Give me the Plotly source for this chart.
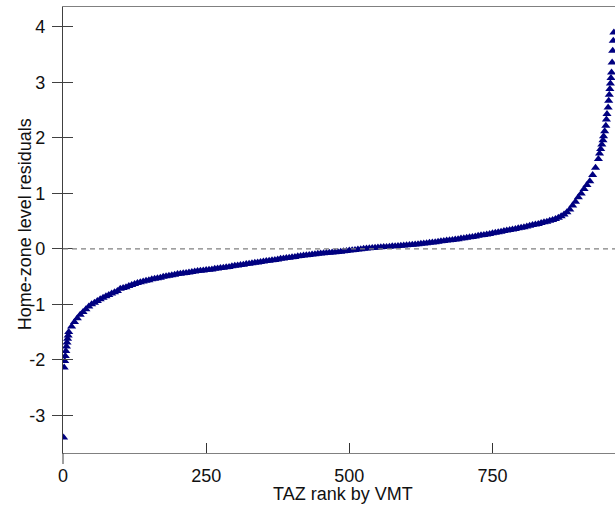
import plotly.graph_objects as go

# ---- data ----
head_rank = [1, 2, 3, 4, 5, 6, 7, 8, 9]
head_resid = [-3.40, -2.14, -2.02, -1.93, -1.84, -1.76, -1.69, -1.62, -1.56]

body_rank = list(range(10, 936, 5))
body_resid = [
    -1.50, -1.40, -1.32, -1.25, -1.19, -1.14, -1.09, -1.04, -1.00, -0.97,
    -0.94, -0.91, -0.88, -0.855, -0.83, -0.805, -0.78, -0.76, -0.72, -0.705,
    -0.69, -0.67, -0.65, -0.635, -0.615, -0.60, -0.59, -0.575, -0.565, -0.55,
    -0.54, -0.53, -0.52, -0.505, -0.495, -0.485, -0.475, -0.465, -0.455, -0.45,
    -0.44, -0.435, -0.425, -0.415, -0.41, -0.40, -0.395, -0.39, -0.38, -0.375,
    -0.37, -0.36, -0.355, -0.345, -0.34, -0.33, -0.325, -0.315, -0.305, -0.30,
    -0.29, -0.285, -0.275, -0.27, -0.26, -0.25, -0.245, -0.235, -0.23, -0.22,
    -0.215, -0.205, -0.20, -0.19, -0.18, -0.175, -0.165, -0.16, -0.15, -0.145,
    -0.135, -0.13, -0.12, -0.115, -0.11, -0.10, -0.095, -0.09, -0.085, -0.08,
    -0.075, -0.07, -0.065, -0.06, -0.055, -0.05, -0.045, -0.04, -0.03, -0.025,
    -0.02, -0.01, -0.005, 0.0, 0.005, 0.01, 0.015, 0.02, 0.025, 0.03,
    0.035, 0.035, 0.04, 0.045, 0.045, 0.05, 0.055, 0.06, 0.065, 0.07,
    0.075, 0.08, 0.085, 0.09, 0.095, 0.10, 0.11, 0.115, 0.12, 0.13,
    0.135, 0.14, 0.15, 0.155, 0.16, 0.17, 0.175, 0.185, 0.19, 0.20,
    0.21, 0.215, 0.225, 0.235, 0.245, 0.25, 0.26, 0.27, 0.28, 0.29,
    0.30, 0.31, 0.32, 0.33, 0.34, 0.35, 0.36, 0.37, 0.38, 0.39,
    0.405, 0.415, 0.43, 0.44, 0.45, 0.465, 0.48, 0.49, 0.505, 0.52,
    0.54, 0.56, 0.59, 0.62, 0.66, 0.71, 0.78, 0.85, 0.93, 1.00,
    1.08, 1.15, 1.22, 1.33, 1.46, 1.62,
]

tail_rank = [937, 939, 941, 943, 944, 946, 948, 949, 950, 952,
             953, 954, 955, 956, 957, 958, 959, 960, 961, 962]
tail_resid = [1.72, 1.80, 1.88, 1.96, 2.03, 2.12, 2.22, 2.33, 2.43, 2.55,
              2.67, 2.78, 2.88, 2.98, 3.08, 3.18, 3.36, 3.57, 3.75, 3.90]

rank = head_rank + body_rank + tail_rank
resid = head_resid + body_resid + tail_resid

x_ticks = [0, 250, 500, 750]
y_ticks = [-3, -2, -1, 0, 1, 2, 3, 4]
y_tick_text = ["-3", "-2", "-1", "0", "1", "2", "3", "4"]
x_range = [0, 964]
y_range = [-3.68, 4.36]

FONT = "Liberation Sans, Arial, sans-serif"
TXT = "#111111"

fig = go.Figure()
fig.add_trace(go.Scatter(
    x=rank, y=resid, mode="markers",
    marker=dict(symbol="triangle-up", size=8, color="#000080",
                line=dict(width=0)),
    showlegend=False, hoverinfo="x+y",
))
# helper trace for the inner-tick overlay axis
fig.add_trace(go.Scatter(x=[None], y=[None], yaxis="y2", mode="markers",
                         showlegend=False, hoverinfo="skip"))

fig.add_hline(y=0, line=dict(color="#808080", width=1.3, dash="5px,4px"))

fig.add_shape(type="line", xref="paper", yref="paper", x0=0, x1=0,
              ysizemode="pixel", yanchor=0, y0=0, y1=-11,
              line=dict(color="#404040", width=1))

fig.add_annotation(text="TAZ rank by VMT", xref="paper", yref="paper",
                   x=0.507, y=-0.092, xanchor="center", yanchor="middle",
                   showarrow=False, font=dict(family=FONT, size=18, color=TXT))
fig.add_annotation(text="Home-zone level residuals", xref="paper", yref="paper",
                   x=-0.0688, y=0.513, xanchor="center", yanchor="middle",
                   textangle=-90, showarrow=False,
                   font=dict(family=FONT, size=18, color=TXT))

fig.update_layout(
    width=615, height=506,
    margin=dict(l=63, r=0, t=7, b=53),
    paper_bgcolor="white", plot_bgcolor="white",
    font=dict(family=FONT, size=18, color=TXT),
    xaxis=dict(range=x_range, tickvals=x_ticks, ticks="inside", ticklen=10,
               tickcolor="#333333", tickwidth=1,
               showline=True, linecolor="#808080", linewidth=1.3, mirror=True,
               showgrid=False, zeroline=False, ticklabelstandoff=6),
    yaxis=dict(range=y_range, tickvals=y_ticks, ticktext=y_tick_text,
               ticks="outside", ticklen=10,
               tickcolor="#404040", tickwidth=1,
               showline=True, linecolor="#404040", linewidth=1.3,
               showgrid=False, zeroline=False, ticklabelstandoff=3),
    yaxis2=dict(range=y_range, tickvals=y_ticks, overlaying="y", side="left",
                ticks="inside", ticklen=10, tickcolor="#404040", tickwidth=1,
                showticklabels=False, showline=False, showgrid=False,
                zeroline=False),
)

fig.write_html(
    "out.html",
    config={"displayModeBar": False},
    post_script="document.body.style.margin='0';"
                "document.body.style.overflow='hidden';",
)
